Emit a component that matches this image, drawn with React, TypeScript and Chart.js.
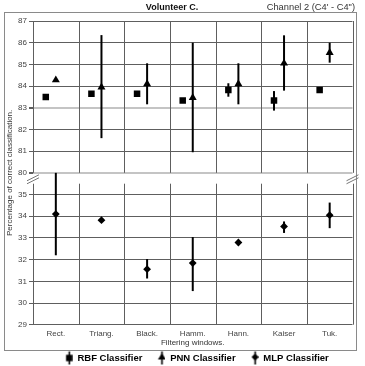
import React, { useEffect, useRef } from 'react';
import { Chart, registerables } from 'chart.js';

Chart.register(...registerables);

// ---------- data ----------
const CATEGORIES = ['Rect.', 'Triang.', 'Black.', 'Hamm.', 'Hann.', 'Kaiser', 'Tuk.'];
const LOWER_TICKS = [29, 30, 31, 32, 33, 34, 35];
const UPPER_TICKS = [80, 81, 82, 83, 84, 85, 86, 87];

const RBF = [83.5, 83.65, 83.65, 83.33, 83.82, 83.33, 83.82];
const RBF_LO = [null, null, null, null, 83.51, 82.87, null];
const RBF_HI = [null, null, null, null, 84.13, 83.77, null];

const PNN = [84.28, 83.95, 84.1, 83.47, 84.1, 85.05, 85.54];
const PNN_LO = [null, 81.6, 83.16, 80.95, 83.16, 83.79, 85.08];
const PNN_HI = [null, 86.35, 85.05, 86.0, 85.05, 86.34, 86.0];

const MLP = [34.1, 33.82, 31.56, 31.84, 32.79, 33.53, 34.05];
const MLP_LO = [32.2, null, 31.13, 30.55, null, 33.23, 33.45];
const MLP_HI = [36.0, null, 32.03, 33.04, null, 33.76, 34.63];

const SERIES_NAMES = ['RBF Classifier', 'PNN Classifier', 'MLP Classifier'];
const TITLE = 'Volunteer C.';
const SUBTITLE = 'Channel 2 (C4\' - C4")';
const X_TITLE = 'Filtering windows.';
const Y_TITLE = 'Percentage of correct classification.';

// ---------- broken axis mapping ----------
const ALL_TICK_LABELS = [...LOWER_TICKS, ...UPPER_TICKS];
const BREAK_AT = LOWER_TICKS.length; // axis position of 80
const Y_MAX = ALL_TICK_LABELS.length - 1;
const toUpper = (v: number | null) => (v == null ? null : v - UPPER_TICKS[0] + BREAK_AT);
const toLower = (v: number | null) => (v == null ? null : v - LOWER_TICKS[0]);

// styling
const FONT = "'Liberation Sans', Arial, sans-serif";
const GRID = '#5e5e5e';
const LIGHT = '#c4c4c4';
const RBF_OFFSET = -0.22;

function makeIcon(kind: string) {
  const c = document.createElement('canvas');
  c.width = 16;
  c.height = 15;
  const g = c.getContext('2d')!;
  const cx = 12.5;
  g.fillStyle = '#000';
  g.fillRect(cx - 0.75, 1, 1.6, 13);
  g.beginPath();
  if (kind === 'rect') {
    g.rect(cx - 3.2, 4.3, 6.4, 6.4);
  } else if (kind === 'tri') {
    g.moveTo(cx, 2.5);
    g.lineTo(cx + 4, 9);
    g.lineTo(cx - 4, 9);
    g.closePath();
  } else {
    g.moveTo(cx, 3);
    g.lineTo(cx + 3.6, 6.6);
    g.lineTo(cx, 10.2);
    g.lineTo(cx - 3.6, 6.6);
    g.closePath();
  }
  g.fill();
  return c;
}

const decorPlugin = {
  id: 'decor',
  beforeDatasetsDraw(chart: any) {
    const { ctx } = chart;
    const x = chart.scales.x;
    const y = chart.scales.y;
    const yTop = y.getPixelForValue(Y_MAX);
    const yBreakTop = y.getPixelForValue(BREAK_AT);
    const yBreakBottom = y.getPixelForValue(BREAK_AT - 0.5);
    const yBottom = y.getPixelForValue(0);
    ctx.save();
    ctx.strokeStyle = GRID;
    ctx.lineWidth = 1;
    for (let k = 0; k <= CATEGORIES.length; k++) {
      const xp = Math.round(x.getPixelForValue(k - 0.5)) + 0.5;
      ctx.beginPath();
      ctx.moveTo(xp, yTop);
      ctx.lineTo(xp, yBreakTop);
      ctx.moveTo(xp, yBreakBottom);
      ctx.lineTo(xp, yBottom);
      ctx.stroke();
    }
    // error bars
    const sets = [
      { lo: RBF_LO.map(toUpper), hi: RBF_HI.map(toUpper), off: RBF_OFFSET },
      { lo: PNN_LO.map(toUpper), hi: PNN_HI.map(toUpper), off: 0 },
      { lo: MLP_LO.map(toLower), hi: MLP_HI.map(toLower), off: 0 },
    ];
    ctx.strokeStyle = '#000';
    ctx.lineWidth = 2;
    sets.forEach((s) => {
      s.lo.forEach((lo, i) => {
        const hi = s.hi[i];
        if (lo == null || hi == null) return;
        const xp = x.getPixelForValue(i + s.off);
        ctx.beginPath();
        ctx.moveTo(xp, y.getPixelForValue(lo));
        ctx.lineTo(xp, y.getPixelForValue(hi));
        ctx.stroke();
      });
    });
    ctx.restore();
  },
  afterDraw(chart: any) {
    const { ctx } = chart;
    const y = chart.scales.y;
    const area = chart.chartArea;
    ctx.save();
    // outer frame
    ctx.strokeStyle = '#8a8a8a';
    ctx.lineWidth = 1;
    ctx.strokeRect(4.5, 12.5, 352, 338);
    // titles
    ctx.fillStyle = '#111';
    ctx.textBaseline = 'middle';
    ctx.textAlign = 'center';
    ctx.font = `bold 9px ${FONT}`;
    ctx.fillText(TITLE, 172, 7.5);
    ctx.textAlign = 'right';
    ctx.font = `9.3px ${FONT}`;
    ctx.fillStyle = '#333';
    ctx.fillText(SUBTITLE, 355, 7);
    // break marks
    const yb = (y.getPixelForValue(BREAK_AT) + y.getPixelForValue(BREAK_AT - 0.5)) / 2 + 1;
    ctx.strokeStyle = '#777';
    ctx.lineWidth = 1;
    [area.left, area.right].forEach((xc) => {
      for (const d of [-1.5, 1.5]) {
        ctx.beginPath();
        ctx.moveTo(xc - 6, yb + 3 + d);
        ctx.lineTo(xc + 6, yb - 3 + d);
        ctx.stroke();
      }
    });
    ctx.restore();
  },
};

export default function App() {
  const ref = useRef<HTMLCanvasElement | null>(null);

  useEffect(() => {
    if (!ref.current) return;
    const icons = [makeIcon('rect'), makeIcon('tri'), makeIcon('diamond')];
    const chart = new Chart(ref.current, {
      type: 'scatter',
      data: {
        datasets: [
          {
            label: SERIES_NAMES[0],
            data: RBF.map((v, i) => ({ x: i + RBF_OFFSET, y: toUpper(v) })),
            pointStyle: 'rect',
            pointRadius: 4.6,
            backgroundColor: '#000',
            borderColor: '#000',
            borderWidth: 0,
          },
          {
            label: SERIES_NAMES[1],
            data: PNN.map((v, i) => ({ x: i, y: toUpper(v) })),
            pointStyle: 'triangle',
            pointRadius: 4.6,
            backgroundColor: '#000',
            borderColor: '#000',
            borderWidth: 0,
          },
          {
            label: SERIES_NAMES[2],
            data: MLP.map((v, i) => ({ x: i, y: toLower(v) })),
            pointStyle: 'rectRot',
            pointRadius: 3.9,
            backgroundColor: '#000',
            borderColor: '#000',
            borderWidth: 0,
          },
        ],
      } as any,
      options: {
        responsive: false,
        animation: false,
        devicePixelRatio: 1,
        layout: { padding: { top: 21, left: 0, right: 12.5, bottom: 0 } },
        scales: {
          x: {
            type: 'linear',
            min: -0.5,
            max: CATEGORIES.length - 0.5,
            afterBuildTicks: (s: any) => {
              s.ticks = CATEGORIES.map((_, i) => ({ value: i }));
            },
            afterFit: (s: any) => {
              s.height = 21.55;
            },
            grid: { display: false, drawTicks: false },
            border: { display: false },
            ticks: {
              padding: 4,
              color: '#444',
              font: { family: FONT, size: 8 },
              maxRotation: 0,
              callback: (v: any) => CATEGORIES[v] ?? '',
            },
            title: {
              display: true,
              text: X_TITLE,
              color: '#333',
              font: { family: FONT, size: 8 },
              padding: { top: 0, bottom: -1.55 },
            },
          },
          y: {
            type: 'linear',
            min: 0,
            max: Y_MAX,
            afterBuildTicks: (s: any) => {
              s.ticks = ALL_TICK_LABELS.map((_, i) => ({ value: i }));
            },
            afterFit: (s: any) => {
              s.width = 33;
            },
            grid: {
              color: (c: any) => (c.tick && (c.tick.value === BREAK_AT || c.tick.value === BREAK_AT + 3) ? LIGHT : GRID),
              lineWidth: (c: any) => (c.tick && (c.tick.value === BREAK_AT || c.tick.value === BREAK_AT + 3) ? 2 : 1),
              tickColor: GRID,
              tickLength: 4,
            },
            border: { display: false },
            ticks: {
              padding: 2,
              color: '#444',
              font: { family: FONT, size: 8 },
              callback: (v: any) => ALL_TICK_LABELS[v] ?? '',
            },
            title: {
              display: true,
              text: Y_TITLE,
              color: '#333',
              font: { family: FONT, size: 8 },
              padding: { top: 5, bottom: 0 },
            },
          },
        },
        plugins: {
          tooltip: { enabled: false },
          title: { display: false },
          legend: {
            display: true,
            position: 'bottom',
            fullSize: false,
            maxHeight: 19.75,
            labels: {
              usePointStyle: true,
              pointStyleWidth: 16,
              padding: 7,
              color: '#111',
              font: { family: FONT, size: 9.5, weight: 'bold' },
              generateLabels: () =>
                SERIES_NAMES.map((name, i) => ({
                  text: name,
                  pointStyle: icons[i],
                  fillStyle: '#000',
                  strokeStyle: '#000',
                  lineWidth: 0,
                  hidden: false,
                  datasetIndex: i,
                })),
            },
          },
        },
      } as any,
      plugins: [decorPlugin],
    });
    return () => chart.destroy();
  }, []);

  return (
    <div style={{ position: 'fixed', left: 0, top: 0, width: 365, height: 366, background: '#fff' }}>
      <canvas ref={ref} width={365} height={366} style={{ display: 'block', width: 365, height: 366 }} />
    </div>
  );
}
